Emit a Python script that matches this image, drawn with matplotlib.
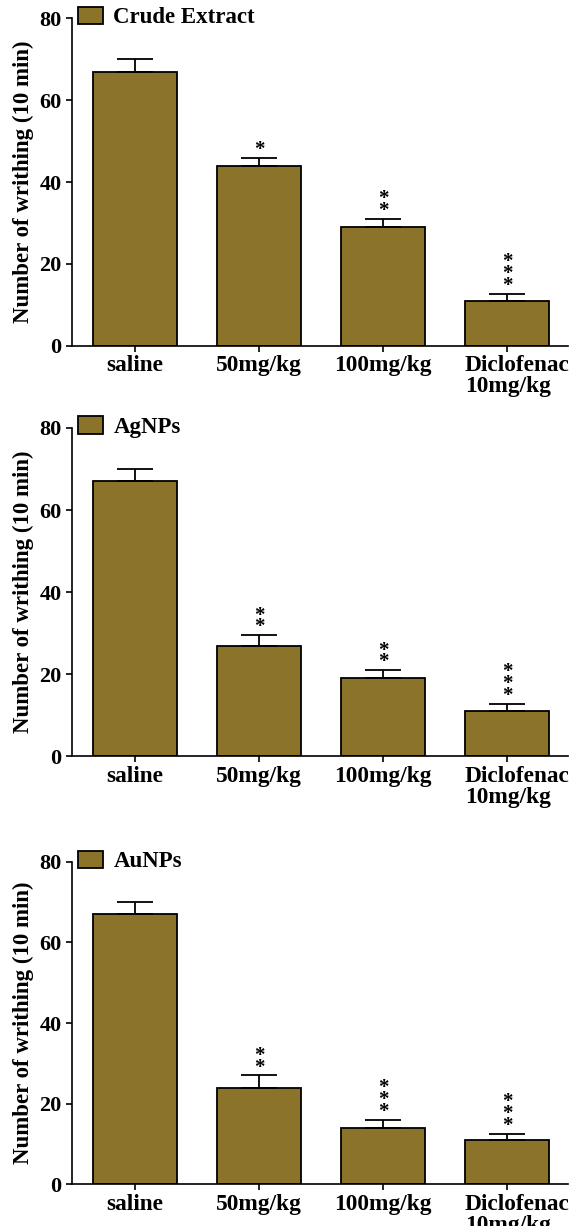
import numpy as np
import matplotlib.pyplot as plt
from matplotlib.transforms import ScaledTranslation

plt.rcParams['font.family'] = 'Liberation Serif'
plt.rcParams['font.weight'] = 'bold'

groups = ['saline', '50mg/kg', '100mg/kg', 'Diclofenac\n10mg/kg']
titles = ['Crude Extract', 'AgNPs', 'AuNPs']

crude_mean = [67, 44, 29, 11]
crude_err = [3, 2, 2, 1.7]
crude_stars = [0, 1, 2, 3]

ag_mean = [67, 27, 19, 11]
ag_err = [3, 2.5, 2, 1.8]
ag_stars = [0, 2, 2, 3]

au_mean = [67, 24, 14, 11]
au_err = [3, 3, 2, 1.6]
au_stars = [0, 2, 3, 3]

means = [crude_mean, ag_mean, au_mean]
errs = [crude_err, ag_err, au_err]
stars = [crude_stars, ag_stars, au_stars]

color = '#8b7429'

fig = plt.figure(figsize=(5.79, 12.26), dpi=100)
# axes boxes in figure fraction (left, bottom, width, height)
boxes = [[0.124, 0.718, 0.857, 0.267],
         [0.124, 0.383, 0.857, 0.268],
         [0.124, 0.034, 0.857, 0.263]]

x = np.arange(len(groups))
for i in range(3):
    ax = fig.add_axes(boxes[i])
    ax.bar(x, means[i], width=0.68, color=color, edgecolor='black', linewidth=1.3,
           label=titles[i], zorder=2)
    ax.errorbar(x, means[i], yerr=[np.zeros(4), errs[i]], fmt='none', ecolor='black',
                elinewidth=1.3, capsize=13, capthick=1.3, zorder=3)
    for j in range(4):
        n = stars[i][j]
        if n:
            top = means[i][j] + errs[i][j]
            ax.annotate('\n'.join(['*'] * n), (x[j], top), xytext=(0, -1.5),
                        textcoords='offset points', ha='center', va='bottom',
                        fontsize=15, fontweight='bold', linespacing=0.45)
    ax.set_ylim(0, 80)
    ax.set_xlim(-0.51, 3.49)
    ax.set_yticks([0, 20, 40, 60, 80])
    ax.set_xticks(x)
    ax.set_xticklabels(groups, fontsize=16.8, fontweight='bold', linespacing=1.0)
    ax.tick_params(axis='y', labelsize=16, width=1.2, length=4)
    ax.tick_params(axis='x', width=1.2, length=4, pad=3)
    for lab in ax.get_yticklabels():
        lab.set_fontweight('bold')
    # diclofenac label sits a little right of its tick, lines left-aligned
    last = ax.get_xticklabels()[-1]
    last.set_multialignment('left')
    last.set_transform(last.get_transform() + ScaledTranslation(0.1, 0, fig.dpi_scale_trans))
    ax.spines['top'].set_visible(False)
    ax.spines['right'].set_visible(False)
    ax.spines['left'].set_linewidth(1.2)
    ax.spines['bottom'].set_linewidth(1.2)
    ax.set_ylabel('Number of writhing (10 min)', fontsize=16.5, fontweight='bold', labelpad=4)
    ax.legend(loc='upper left', bbox_to_anchor=(-0.02, 1.085), frameon=False,
              handlelength=1.1, handleheight=0.8, handletextpad=0.45, borderaxespad=0.3,
              prop={'weight': 'bold', 'size': 16.5})

fig.savefig('out.png', dpi=100)
